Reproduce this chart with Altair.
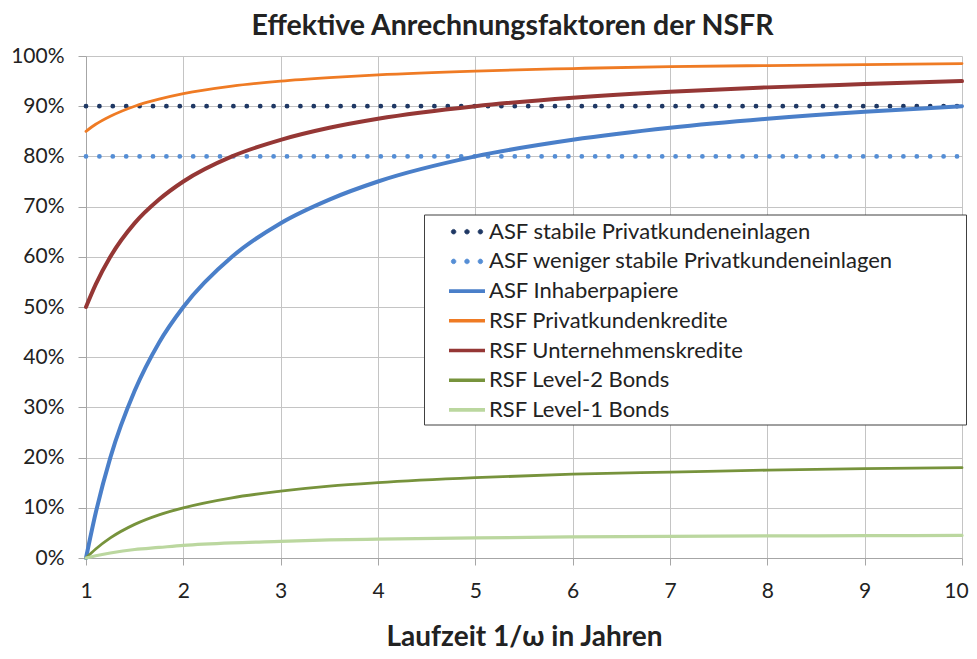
import altair as alt
import pandas as pd

# ---- data ----
dotted_names = [
    "ASF stabile Privatkundeneinlagen",
    "ASF weniger stabile Privatkundeneinlagen",
]
solid_names = [
    "ASF Inhaberpapiere",
    "RSF Privatkundenkredite",
    "RSF Unternehmenskredite",
    "RSF Level-2 Bonds",
    "RSF Level-1 Bonds",
]

x_flat = [1, 10]
asf_stabil = [0.90, 0.90]
asf_weniger = [0.80, 0.80]

x_curve = [1, 1.1, 1.25, 1.5, 1.75, 2, 2.5, 3, 3.5, 4, 5, 6, 7, 8, 9, 10]
asf_inhaber = [0.0, 0.09, 0.20, 0.333, 0.429, 0.50, 0.60, 0.667, 0.714, 0.75,
               0.80, 0.833, 0.857, 0.875, 0.889, 0.90]
rsf_privat = [0.85, 0.864, 0.88, 0.90, 0.914, 0.925, 0.94, 0.95, 0.957, 0.9625,
              0.97, 0.975, 0.979, 0.981, 0.983, 0.985]
rsf_unternehmen = [0.50, 0.545, 0.60, 0.667, 0.714, 0.75, 0.80, 0.833, 0.857,
                   0.875, 0.90, 0.917, 0.929, 0.9375, 0.944, 0.95]
rsf_level2 = [0.0, 0.018, 0.04, 0.067, 0.086, 0.10, 0.12, 0.133, 0.143, 0.15,
              0.16, 0.167, 0.171, 0.175, 0.178, 0.18]
rsf_level1 = [0.0, 0.0045, 0.01, 0.017, 0.021, 0.025, 0.03, 0.033, 0.036,
              0.0375, 0.04, 0.042, 0.043, 0.044, 0.0444, 0.045]

x_ticks = list(range(1, 11))
y_ticks = [i / 10 for i in range(11)]

title_text = "Effektive Anrechnungsfaktoren der NSFR"
x_title = "Laufzeit 1/ω in Jahren"

# ---- build tables ----
dotted_data = [(dotted_names[0], x_flat, asf_stabil),
               (dotted_names[1], x_flat, asf_weniger)]
solid_data = [(solid_names[0], x_curve, asf_inhaber),
              (solid_names[1], x_curve, rsf_privat),
              (solid_names[2], x_curve, rsf_unternehmen),
              (solid_names[3], x_curve, rsf_level2),
              (solid_names[4], x_curve, rsf_level1)]

def to_frame(items):
    rows = []
    for name, xs, ys in items:
        rows += [{"series": name, "x": x, "y": y} for x, y in zip(xs, ys)]
    return pd.DataFrame(rows)

df_dot = to_frame(dotted_data)
df_solid = to_frame(solid_data)

# ---- styles ----
FONT = "Lato"
TXT = "#222222"
dot_colors = ["#1F3864", "#558ED5"]
solid_colors = ["#4A7FC9", "#EF7B24", "#953735", "#77933C", "#BBD79F"]
solid_widths = [4.0, 2.8, 4.0, 2.8, 3.2]
DOT_DASH = [0, 13.4]

# legend symbols drawn in pixel units (size 4 -> scale 1)
def circle(cx, r):
    return (f"M{cx - r},0a{r},{r} 0 1,0 {2 * r},0"
            f"a{r},{r} 0 1,0 {-2 * r},0")

dots_path = circle(-13.4, 2.3) + circle(0, 2.3) + circle(13.4, 2.3)
line_path = "M-18,0H18"

LEG_X = 361.5
LEG_Y = 164.7
ROW = 29.7
LEG_FS = 22

def make_legend(path, y, sw):
    return alt.Legend(
        title=None, orient="none", legendX=LEG_X, legendY=y,
        symbolType=path, symbolSize=4, symbolStrokeWidth=sw,
        symbolOffset=8.5, symbolDash=[1, 0],
        labelFont=FONT, labelFontSize=LEG_FS, labelColor=TXT,
        rowPadding=ROW - LEG_FS, labelOffset=11, padding=0, labelLimit=600,
    )

x_enc = alt.X(
    "x:Q",
    scale=alt.Scale(domain=[1, 10], nice=False, zero=False),
    axis=alt.Axis(
        values=x_ticks, format="d", title=x_title,
        labelFlush=False, labelPadding=15, tickSize=7,
        labelOffset={"condition": {"test": "datum.value == 10", "value": -6},
                     "value": 0},
        titleFont=FONT, titleFontSize=28, titleFontWeight="bold",
        titleColor=TXT, titleY=87, titleBaseline="alphabetic",
    ),
)
y_enc = alt.Y(
    "y:Q",
    scale=alt.Scale(domain=[0, 1], nice=False),
    axis=alt.Axis(
        values=y_ticks, format=".0%", title=None,
        labelFlush=False, labelPadding=14, tickSize=8,
    ),
)

box = alt.Chart(pd.DataFrame({"k": [0]})).mark_rect(
    fill="white", stroke="#404040", strokeWidth=1
).encode(
    x=alt.value(338.5), x2=alt.value(880.5), y=alt.value(159), y2=alt.value(369)
)

title = alt.Chart(pd.DataFrame({"t": [title_text]})).mark_text(
    font=FONT, fontSize=28.5, fontWeight="bold", color=TXT,
    align="center", baseline="alphabetic",
).encode(text="t:N", x=alt.value(426.5), y=alt.value(-21))

dot_legend = make_legend(dots_path, LEG_Y, 0.8)
dot_scale = alt.Scale(domain=dotted_names, range=dot_colors)
dotted_layer = (
    alt.Chart(df_dot)
    .transform_calculate(dseries="datum.series")
    .mark_line(strokeWidth=4.8, strokeCap="round")
    .encode(
        x=x_enc, y=y_enc,
        stroke=alt.Stroke("dseries:N", scale=dot_scale, sort=dotted_names,
                          legend=dot_legend),
        fill=alt.Fill("dseries:N", scale=dot_scale, sort=dotted_names,
                      legend=dot_legend),
        strokeDash=alt.value(DOT_DASH),
    )
)

color = alt.Color("series:N",
                  scale=alt.Scale(domain=solid_names, range=solid_colors),
                  sort=solid_names,
                  legend=make_legend(line_path, LEG_Y + 2 * ROW, 3.6))

layers = [box, dotted_layer]
for name, w in zip(solid_names, solid_widths):
    layers.append(
        alt.Chart(df_solid)
        .transform_filter(alt.datum.series == name)
        .mark_line(strokeWidth=w, strokeCap="round", interpolate="monotone")
        .encode(x=x_enc, y=y_enc, color=color)
    )
layers.append(title)

chart = (
    alt.layer(*layers)
    .properties(
        width=876, height=502,
        autosize=alt.AutoSizeParams(type="none"),
        padding={"left": 78, "top": 48, "right": 7, "bottom": 93},
    )
    .configure_view(stroke=None)
    .configure_axis(
        labelFont=FONT, labelFontSize=21, labelColor=TXT,
        tickColor="#A6A6A6", domainColor="#A6A6A6", gridColor="#C4C4C4",
        gridWidth=1,
    )
)

chart.save("out.html", embed_options={"renderer": "svg", "actions": False})
